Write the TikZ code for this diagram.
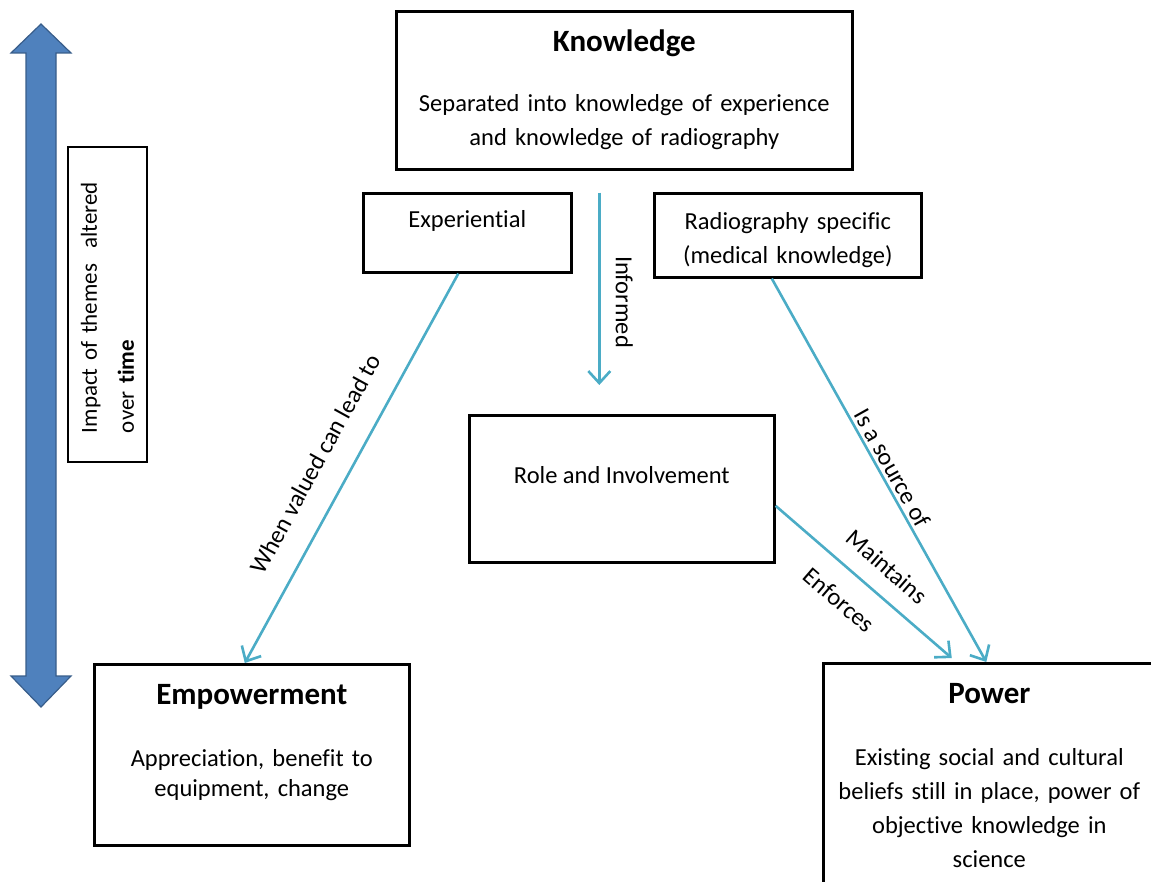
\documentclass[tikz,border=0pt]{standalone}
\usepackage{fontspec}
\setmainfont{Carlito}[Ligatures=CommonOff]
\usetikzlibrary{arrows.meta}

\definecolor{linkblue}{HTML}{4BACC6}
\definecolor{timefill}{HTML}{4F81BD}
\definecolor{timeedge}{HTML}{385D8A}
\newcommand{\boxtitle}[1]{{\fontsize{31}{34}\selectfont\bfseries #1}}

\begin{document}
\begin{tikzpicture}[x=1pt, y=-1pt,
    box/.style={draw=black, line width=2.6pt, rectangle, inner sep=0pt, anchor=north west,
        align=center, font=\fontsize{24.5}{34}\selectfont},
    link/.style={draw=linkblue, line width=2.6pt, -{Straight Barb[length=12pt, width=22pt]}},
    linklabel/.style={font=\fontsize{24.5}{30}\selectfont, inner sep=2pt, sloped},]
    \useasboundingbox (0,0) rectangle (1151,882);
    \clip (0,0) rectangle (1151,882);

    %Time arrow
    \filldraw[fill=timefill, draw=timeedge, line width=1.2pt]
        (41,24) -- (71,53) -- (56,53) -- (56,676) -- (71,676) -- (41,707)
        -- (11,676) -- (26,676) -- (26,53) -- (11,53) -- cycle;
    \node[draw, line width=1.3pt, rotate=90, text width=257pt, inner xsep=29pt,
        minimum height=79pt, align=left, font=\fontsize{23}{37}\selectfont] (impact) at (107.5,304.5)
        {Impact of themes~ altered\\ over \textbf{time}};

    %Nodes
    \node[box, text width=456pt, text height=40pt, text depth=118pt] (know) at (395,10)
        {\boxtitle{Knowledge}\\[26pt] Separated into knowledge of experience\\ and knowledge of radiography};
    \node[box, minimum width=208pt, text height=34pt, text depth=45pt] (exp) at (362,192) {Experiential};
    \node[box, text width=267pt, text height=36pt, text depth=48pt] (rad) at (653,192)
        {Radiography specific\\ (medical knowledge)};
    \node[box, minimum width=305pt, text height=68pt, text depth=79pt] (role) at (468,414) {Role and Involvement};
    \node[box, text width=315pt, text height=40pt, text depth=141pt,
        font=\fontsize{24.5}{30}\selectfont] (emp) at (93,663)
        {\boxtitle{Empowerment}\\[32pt] Appreciation, benefit to\\ equipment, change};
    \node[box, text width=332pt, text height=40pt, text depth=203pt] (pow) at (822,662)
        {\boxtitle{Power}\\[28pt] Existing social and cultural\\ beliefs still in place, power of\\
        objective knowledge in\\ science};

    %Lines
    \draw[link, shorten <=22pt, shorten >=29pt] ([xshift=-25pt]know.south) -- ([xshift=-25pt]know.south |- role.north)
        node[linklabel, pos=0.54, above=13pt] (informed) {Informed};
    \draw[link] ([xshift=-9pt]exp.south) -- ([xshift=-7pt]emp.north)
        node[linklabel, pos=0.53, above=22pt] (valued) {When valued can lead to};
    \draw[link] ([xshift=-16pt]rad.south) -- ([xshift=-3pt]pow.north)
        node[linklabel, pos=0.51, above=1pt] (source) {Is a source of};
    \draw[link, shorten >=6pt] ([yshift=-17pt]role.east) -- ([xshift=-33pt]pow.north)
        node[linklabel, pos=0.52, above=15pt] (maintains) {Maintains}
        node[linklabel, pos=0.46, below=18pt] (enforces) {Enforces};
\end{tikzpicture}
\end{document}
